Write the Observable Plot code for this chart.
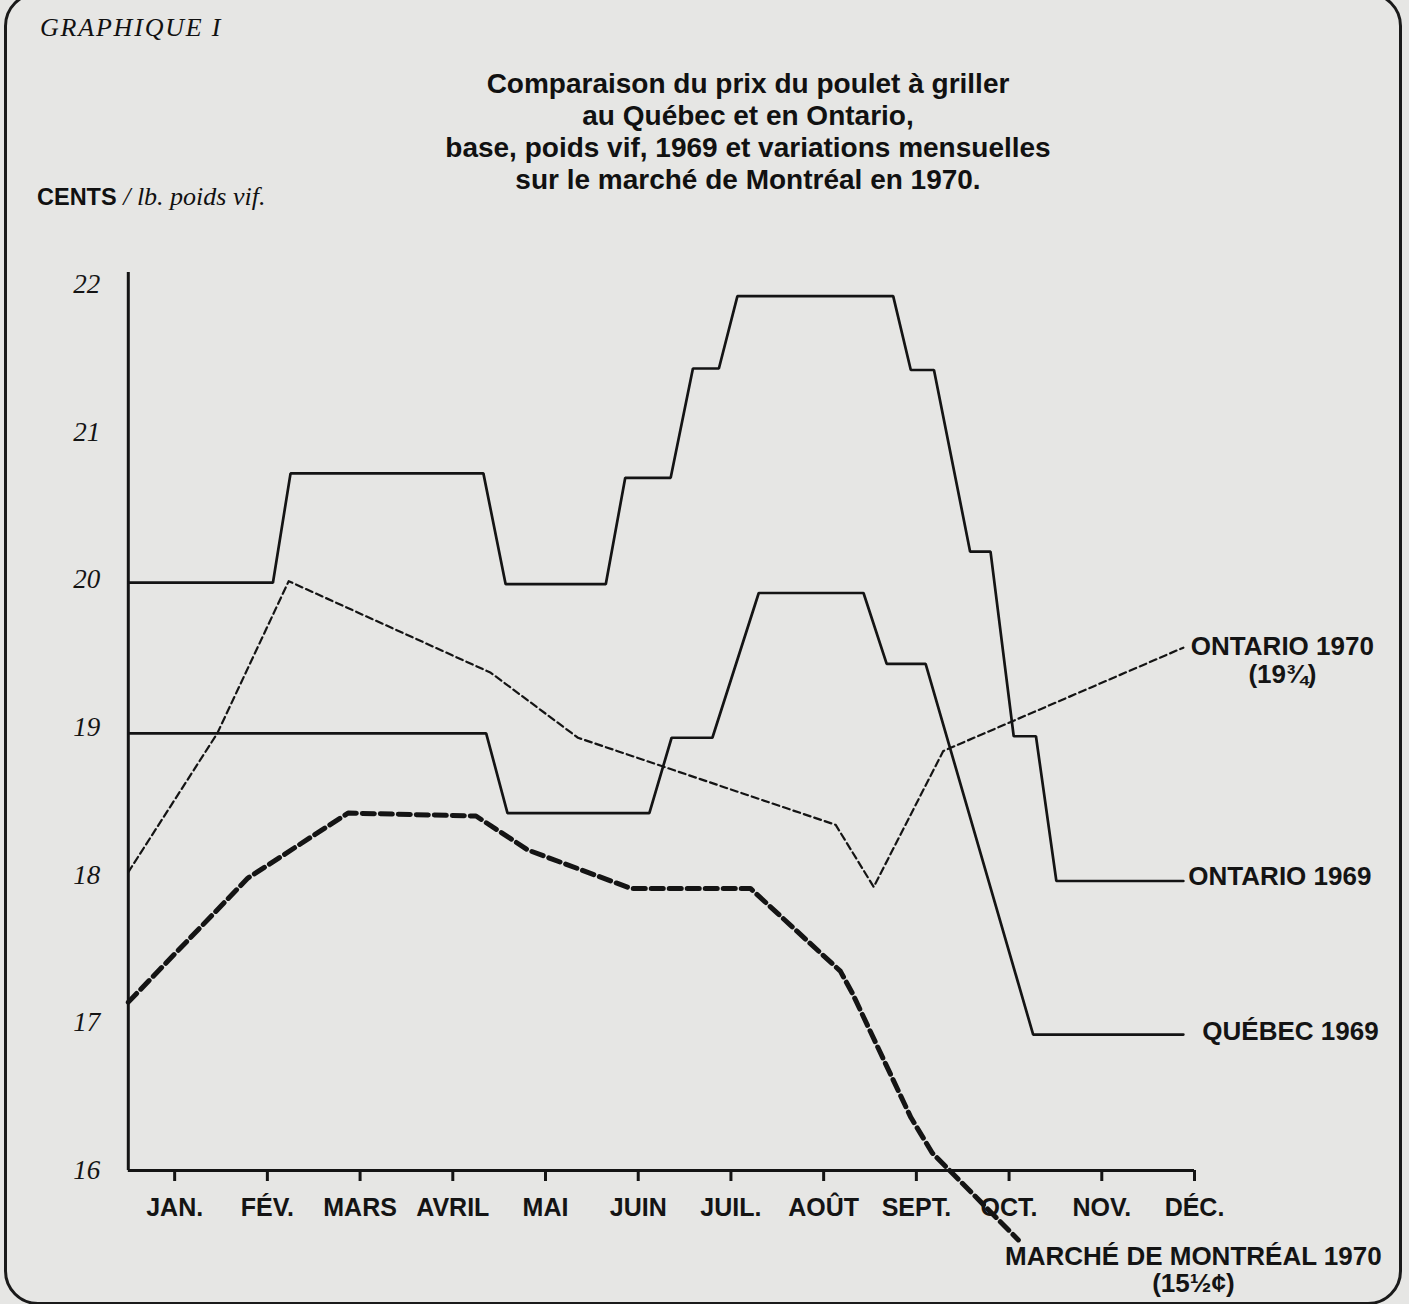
<!DOCTYPE html>
<html>
<head>
<meta charset="utf-8">
<script src="https://cdn.jsdelivr.net/npm/d3@7"></script>
<script src="https://cdn.jsdelivr.net/npm/@observablehq/plot@0.6"></script>
<style>
  html, body { margin: 0; padding: 0; background: #e6e6e4; }
  #page { position: relative; width: 1409px; height: 1304px; overflow: hidden; background: #e6e6e4; color: #111; }
  #frame { position: absolute; left: 4px; top: -8px; width: 1398px; height: 1313px; border: 3px solid #1a1a1a; border-radius: 34px; box-sizing: border-box; }
  #graph { position: absolute; left: 40px; top: 13px; font: italic 26px "Liberation Serif", serif; letter-spacing: 1.8px; white-space: nowrap; }
  #title { position: absolute; left: 348px; width: 800px; top: 68px; text-align: center; font: bold 28px "Liberation Sans", Arial, sans-serif; line-height: 32px; }
  #unit { position: absolute; left: 37px; top: 182px; white-space: nowrap; line-height: 30px; }
  #unit .c { font: bold 23.5px "Liberation Sans", Arial, sans-serif; }
  #unit .s { font: italic 26px "Liberation Serif", serif; }
  #chart { position: absolute; left: 0; top: 0; }
</style>
</head>
<body>
<div id="page">
  <div id="chart"></div>
  <div id="frame"></div>
  <div id="graph">GRAPHIQUE I</div>
  <div id="title">Comparaison du prix du poulet à griller<br>au Québec et en Ontario,<br>base, poids vif, 1969 et variations mensuelles<br>sur le marché de Montréal en 1970.</div>
  <div id="unit"><span class="c">CENTS</span><span class="s"> / lb. poids vif.</span></div>
</div>
<script>
// Month labels (x = month number, JAN. = 1)
const months = ["JAN.", "FÉV.", "MARS", "AVRIL", "MAI", "JUIN", "JUIL.", "AOÛT", "SEPT.", "OCT.", "NOV.", "DÉC."];
const monthTicks = [1, 2, 3, 4, 5, 6, 7, 8, 9, 10, 11, 12];
const centTicks = [16, 17, 18, 19, 20, 21, 22];

// Series: [month position, cents per lb live weight]
const ontario1969 = [[0.50, 19.98], [2.06, 19.98], [2.25, 20.72], [4.33, 20.72], [4.57, 19.97], [5.65, 19.97],
  [5.86, 20.69], [6.35, 20.69], [6.59, 21.43], [6.87, 21.43], [7.07, 21.92], [8.75, 21.92], [8.94, 21.42],
  [9.19, 21.42], [9.58, 20.19], [9.80, 20.19], [10.05, 18.94], [10.29, 18.94], [10.51, 17.96], [11.88, 17.96]];
const quebec1969 = [[0.50, 18.96], [4.36, 18.96], [4.59, 18.42], [6.12, 18.42], [6.36, 18.93], [6.80, 18.93],
  [7.30, 19.91], [8.43, 19.91], [8.68, 19.43], [9.10, 19.43], [10.26, 16.92], [11.88, 16.92]];
const ontario1970 = [[0.50, 18.02], [1.46, 18.96], [2.23, 19.99], [4.41, 19.37], [5.35, 18.93], [8.13, 18.34],
  [8.54, 17.92], [9.29, 18.84], [11.88, 19.54]];
const montreal1970 = [[0.50, 17.14], [1.79, 17.98], [2.87, 18.42], [4.25, 18.40], [4.81, 18.17], [5.92, 17.91],
  [7.21, 17.91], [8.18, 17.35], [8.31, 17.20], [8.94, 16.36], [9.17, 16.12], [10.10, 15.53]];

const xDomain = [0.5, 12];
const yDomain = [16, 22.08];

const ink = "#141414";
const sans = "Liberation Sans, Arial, sans-serif";
const last = s => [s[s.length - 1]];
const X = d => d[0], Y = d => d[1];

const labelStyle = {x: X, y: Y, fontFamily: sans, fontWeight: "bold", fontSize: 26, fill: ink};

const chart = Plot.plot({
  width: 1409,
  height: 1304,
  marginTop: 272,
  marginBottom: 134,
  marginLeft: 127.8,
  marginRight: 215,
  x: {domain: xDomain},
  y: {domain: yDomain},
  style: {background: "transparent", overflow: "visible", color: ink},
  marks: [
    Plot.axisY(centTicks, {tickSize: 0, tickPadding: 28, label: null, tickFormat: d => String(d),
      fontFamily: "Liberation Serif, serif", fontStyle: "italic", fontSize: 27, fill: ink}),
    Plot.axisX(monthTicks, {tickSize: 11, tickPadding: 17, label: null, tickFormat: d => months[d - 1],
      fontFamily: sans, fontWeight: "bold", fontSize: 25, fill: ink, stroke: ink, strokeWidth: 3}),
    Plot.ruleX([xDomain[0]], {y1: yDomain[0], y2: yDomain[1], stroke: ink, strokeWidth: 3}),
    Plot.ruleY([yDomain[0]], {x1: xDomain[0], x2: xDomain[1], stroke: ink, strokeWidth: 3}),
    Plot.line(ontario1969, {x: X, y: Y, stroke: ink, strokeWidth: 2.7, strokeLinejoin: "miter"}),
    Plot.line(quebec1969, {x: X, y: Y, stroke: ink, strokeWidth: 2.7, strokeLinejoin: "miter"}),
    Plot.line(ontario1970, {x: X, y: Y, stroke: ink, strokeWidth: 2.2, strokeDasharray: "7,4"}),
    Plot.line(montreal1970, {x: X, y: Y, stroke: ink, strokeWidth: 5, strokeDasharray: "12,6"}),
    Plot.text(last(ontario1970), {...labelStyle, text: () => "ONTARIO 1970\n(19¾)", textAnchor: "middle", lineHeight: 1.08, dx: 99, dy: 12}),
    Plot.text(last(ontario1969), {...labelStyle, text: () => "ONTARIO 1969", textAnchor: "start", dx: 5, dy: -4}),
    Plot.text(last(quebec1969), {...labelStyle, text: () => "QUÉBEC 1969", textAnchor: "start", dx: 19, dy: -3}),
    Plot.text(last(montreal1970), {...labelStyle, text: () => "MARCHÉ DE MONTRÉAL 1970\n(15½¢)", textAnchor: "middle", lineHeight: 1.05, dx: 175, dy: 30})
  ]
});
document.getElementById("chart").appendChild(chart);
</script>
</body>
</html>
